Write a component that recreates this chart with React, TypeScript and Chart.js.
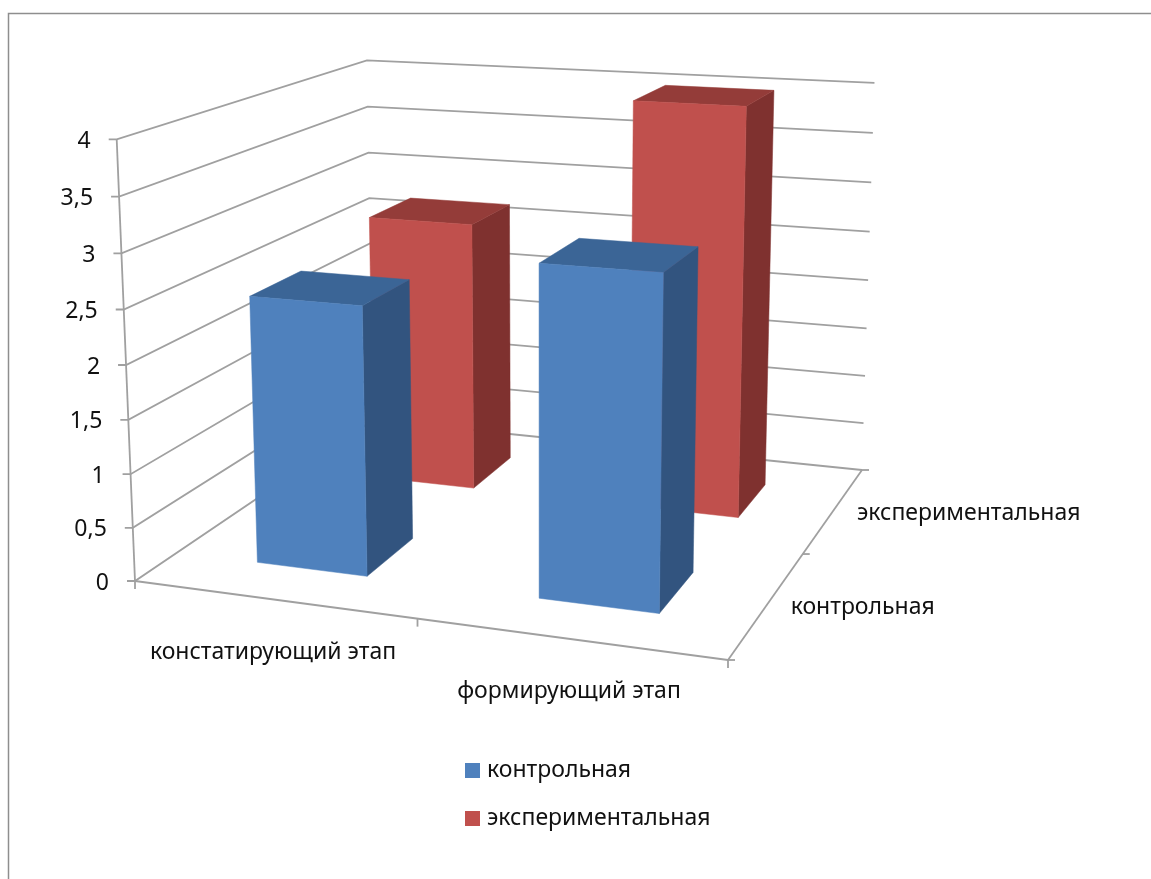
import React, { useEffect, useRef } from "react";
import { Chart, LinearScale, registerables } from "chart.js";

const categories = ["констатирующий этап", "формирующий этап"];
const controlValues = [2.5, 3];
const experimentalValues = [2.7, 4];
const seriesNames = ["контрольная", "экспериментальная"];
const valueMax = 4;
const valueStep = 0.5;

const FONT = '"Noto Sans"';
const FONT_SIZE = 23;
const TEXT_COLOR = "#111111";
const LINE_COLOR = "#a0a0a0";
const FRAME_COLOR = "#8e8e8e";

const faceColors = [
  { front: "#4f81bd", top: "#3b6596", side: "#32547f" },
  { front: "#c0504d", top: "#943c39", side: "#7f312f" },
];

// Excel-style gap settings: gap width and gap depth of 150%.
const BAR_SHARE = 1 / (1 + 150 / 100);

// Screen positions of the plot box corners, used to build the perspective map.
const ORIGIN = [135, 581];
const RIGHT = [728, 660];
const BACK = [373, 420];
const BACK_RIGHT = [862, 470];
const UP = [116.7, 139.3];
const UP_WEIGHT = 0.957;

function floorWeights() {
  const [ox, oy] = ORIGIN;
  const [rx, ry] = RIGHT;
  const [bx, by] = BACK;
  const [wx, wy] = BACK_RIGHT;
  const a1 = rx - wx, b1 = bx - wx, c1 = ox - wx;
  const a2 = ry - wy, b2 = by - wy, c2 = oy - wy;
  const det = a1 * b2 - a2 * b1;
  return [(c1 * b2 - c2 * b1) / det, (a1 * c2 - a2 * c1) / det];
}
const [rightWeight, backWeight] = floorWeights();

// u: along categories, v: into depth, h: up the value axis; all from 0 to 1.
function project(u: number, v: number, h: number) {
  const w = 1 + u * (rightWeight - 1) + v * (backWeight - 1) + h * (UP_WEIGHT - 1);
  const x =
    ORIGIN[0] +
    u * (rightWeight * RIGHT[0] - ORIGIN[0]) +
    v * (backWeight * BACK[0] - ORIGIN[0]) +
    h * (UP_WEIGHT * UP[0] - ORIGIN[0]);
  const y =
    ORIGIN[1] +
    u * (rightWeight * RIGHT[1] - ORIGIN[1]) +
    v * (backWeight * BACK[1] - ORIGIN[1]) +
    h * (UP_WEIGHT * UP[1] - ORIGIN[1]);
  return { x: x / w, y: y / w };
}

// Value axis that follows the slanted front-left edge of the box.
class ProjectedScale extends LinearScale {
  static id = "projected";
  static defaults = LinearScale.defaults;

  valueFraction(value: number) {
    return (value - this.min) / (this.max - this.min);
  }

  getPixelForValue(value: number) {
    return project(0, 0, this.valueFraction(value)).y;
  }

  _computeLabelItems(area: any) {
    const items = super._computeLabelItems(area);
    items.forEach((item: any, i: number) => {
      const pt = project(0, 0, this.valueFraction(this.ticks[i].value));
      item.options.translation[0] = pt.x - 26;
      item.options.translation[1] = pt.y + 2;
    });
    return items;
  }

  // Labels follow the slanted edge, so they are not clipped to the scale box.
  _computeLabelArea() {
    return undefined;
  }
}

Chart.register(...registerables, ProjectedScale);

function segment(ctx: CanvasRenderingContext2D, a: any, b: any) {
  ctx.beginPath();
  ctx.moveTo(a.x, a.y);
  ctx.lineTo(b.x, b.y);
  ctx.stroke();
}

function face(ctx: CanvasRenderingContext2D, pts: any[], color: string) {
  ctx.beginPath();
  pts.forEach((p, i) => (i ? ctx.lineTo(p.x, p.y) : ctx.moveTo(p.x, p.y)));
  ctx.closePath();
  ctx.fillStyle = color;
  ctx.strokeStyle = color;
  ctx.lineWidth = 0.5;
  ctx.fill();
  ctx.stroke();
}

const scenePlugin = {
  id: "scene",
  afterLayout(chart: any) {
    // The legend sits under the plot, stacked in two rows.
    const legend = chart.legend;
    const labels = legend.options.labels;
    legend.left = 469.5 - labels.padding;
    legend.right = legend.left + 340;
    legend.top = 770.5 - labels.padding - FONT_SIZE / 2;
    legend.bottom = chart.height;
  },
  beforeDraw(chart: any) {
    const { ctx, width, height } = chart;
    ctx.save();
    ctx.strokeStyle = FRAME_COLOR;
    ctx.lineWidth = 1.5;
    ctx.beginPath();
    ctx.moveTo(8.5, height);
    ctx.lineTo(8.5, 13.5);
    ctx.lineTo(width, 13.5);
    ctx.stroke();
    ctx.restore();
  },
  beforeDatasetsDraw(chart: any) {
    const { ctx } = chart;
    const yScale = chart.scales.y;
    ctx.save();
    ctx.lineCap = "butt";
    ctx.strokeStyle = LINE_COLOR;
    ctx.lineWidth = 1.8;

    // Wall gridlines and value axis ticks.
    yScale.ticks.forEach((tick: any) => {
      const h = yScale.valueFraction(tick.value);
      const front = project(0, 0, h);
      const backLeft = project(0, 1, h);
      const backRight = project(1, 1, h);
      ctx.beginPath();
      ctx.moveTo(front.x - 8, front.y);
      ctx.lineTo(front.x, front.y);
      ctx.lineTo(backLeft.x, backLeft.y);
      ctx.lineTo(backRight.x, backRight.y);
      ctx.stroke();
    });

    // Box edges.
    segment(ctx, project(0, 0, 0), project(0, 0, 1));
    segment(ctx, project(0, 0, 0), project(1, 0, 0));
    segment(ctx, project(1, 0, 0), project(1, 1, 0));

    // Ticks under the category edge and beside the depth edge.
    for (let i = 0; i <= categories.length; i++) {
      const p = project(i / categories.length, 0, 0);
      segment(ctx, p, { x: p.x, y: p.y + 8 });
    }
    for (let i = 0; i <= seriesNames.length; i++) {
      const p = project(1, i / seriesNames.length, 0);
      segment(ctx, p, { x: p.x + 7, y: p.y });
    }

    // Bars, back row first so the front row covers it.
    const nCat = categories.length;
    const nSer = chart.data.datasets.length;
    for (let s = nSer - 1; s >= 0; s--) {
      const values = chart.data.datasets[s].data as number[];
      const colors = faceColors[s];
      const v0 = (s + 0.5 - BAR_SHARE / 2) / nSer;
      const v1 = (s + 0.5 + BAR_SHARE / 2) / nSer;
      values.forEach((value, i) => {
        const u0 = (i + 0.5 - BAR_SHARE / 2) / nCat;
        const u1 = (i + 0.5 + BAR_SHARE / 2) / nCat;
        const h = yScale.valueFraction(value);
        face(ctx, [project(u1, v0, 0), project(u1, v1, 0), project(u1, v1, h), project(u1, v0, h)], colors.side);
        face(ctx, [project(u0, v0, h), project(u1, v0, h), project(u1, v1, h), project(u0, v1, h)], colors.top);
        face(ctx, [project(u0, v0, 0), project(u1, v0, 0), project(u1, v0, h), project(u0, v0, h)], colors.front);
      });
    }

    // Category and depth axis labels.
    ctx.fillStyle = TEXT_COLOR;
    ctx.font = `${FONT_SIZE}px ${FONT}`;
    ctx.textBaseline = "middle";
    ctx.textAlign = "center";
    categories.forEach((label, i) => {
      const p = project((i + 0.5) / nCat, 0, 0);
      ctx.fillText(label, p.x, p.y + 53);
    });
    ctx.textAlign = "left";
    seriesNames.forEach((label, i) => {
      const p = project(1, (i + 0.5) / seriesNames.length, 0);
      ctx.fillText(label, p.x + 23, p.y + 3.5);
    });
    ctx.restore();
    return false;
  },
};

export default function App() {
  const ref = useRef<HTMLCanvasElement>(null);

  useEffect(() => {
    const chart = new Chart(ref.current as HTMLCanvasElement, {
      type: "bar",
      data: {
        labels: categories,
        datasets: [
          {
            label: seriesNames[0],
            data: controlValues,
            backgroundColor: faceColors[0].front,
            borderColor: faceColors[0].front,
            borderWidth: 9,
          },
          {
            label: seriesNames[1],
            data: experimentalValues,
            backgroundColor: faceColors[1].front,
            borderColor: faceColors[1].front,
            borderWidth: 9,
          },
        ],
      },
      options: {
        animation: false,
        responsive: false,
        layout: { padding: { top: 139, bottom: 298, left: 40, right: 0 } },
        scales: {
          x: { display: false },
          y: {
            type: "projected",
            min: 0,
            max: valueMax,
            grid: { display: false },
            border: { display: false },
            ticks: {
              stepSize: valueStep,
              autoSkip: false,
              color: TEXT_COLOR,
              font: { family: FONT, size: FONT_SIZE },
              callback: (v: any) => String(v).replace(".", ","),
            },
          },
        } as any,
        plugins: {
          title: { display: false },
          tooltip: { enabled: false },
          legend: {
            position: "right",
            align: "start",
            labels: {
              boxWidth: 6,
              boxHeight: 6,
              padding: 25,
              color: TEXT_COLOR,
              font: { family: FONT, size: FONT_SIZE },
            },
          },
        },
      },
      plugins: [scenePlugin],
    } as any);
    return () => chart.destroy();
  }, []);

  return (
    <canvas
      ref={ref}
      width={1151}
      height={879}
      style={{ position: "absolute", left: 0, top: 0, display: "block" }}
    />
  );
}
